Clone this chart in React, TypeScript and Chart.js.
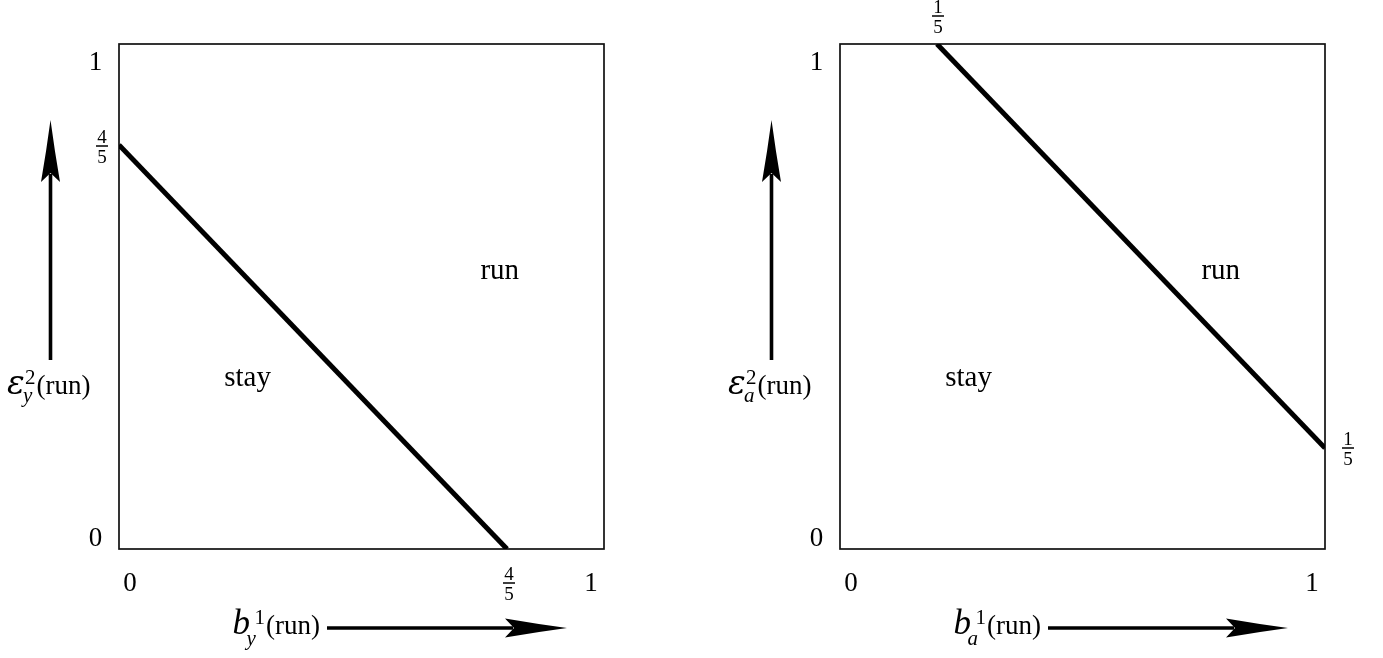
import React, { useEffect, useRef } from "react";
import { Chart, registerables } from "chart.js";

Chart.register(...registerables);

// Boundary between the "stay" and "run" regions, one per panel
const leftBoundaryX = [0, 0.8];
const leftBoundaryY = [0.8, 0];
const rightBoundaryX = [0.2, 1];
const rightBoundaryY = [1, 0.2];

// Axis ticks (values and their printed labels)
const leftXTickValues = [0, 0.8, 1];
const leftXTickLabels = ["0", "4/5", "1"];
const leftYTickValues = [0, 0.8, 1];
const leftYTickLabels = ["0", "4/5", "1"];
const rightXTickValues = [0, 1];
const rightXTickLabels = ["0", "1"];
const rightYTickValues = [0, 1];
const rightYTickLabels = ["0", "1"];

// Fractions where the right boundary meets the top and right edges
const rightTopMarkValues = [0.2];
const rightTopMarkLabels = ["1/5"];
const rightSideMarkValues = [0.2];
const rightSideMarkLabels = ["1/5"];

// Region names and their anchor points (data coordinates)
const regionNames = ["run", "stay"];
const regionX = [0.785, 0.265];
const regionY = [0.535, 0.323];

// Axis titles: base symbol, superscript, subscript, trailing text
const leftXTitle = ["b", "1", "y", "(run)"];
const leftYTitle = ["\u03B5", "2", "y", "(run)"];
const rightXTitle = ["b", "1", "a", "(run)"];
const rightYTitle = ["\u03B5", "2", "a", "(run)"];

const FONT = '"Liberation Serif", "DejaVu Serif", serif';
const GREEK_FONT = '"DejaVu Serif", "Liberation Serif", serif';

type PanelSpec = {
  xTickValues: number[];
  xTickLabels: string[];
  yTickValues: number[];
  yTickLabels: string[];
  topMarkValues: number[];
  topMarkLabels: string[];
  sideMarkValues: number[];
  sideMarkLabels: string[];
  xTitle: string[];
  yTitle: string[];
};

function drawFraction(ctx: CanvasRenderingContext2D, label: string, cx: number, barY: number) {
  const [num, den] = label.split("/");
  ctx.font = `19px ${FONT}`;
  ctx.textAlign = "center";
  ctx.textBaseline = "alphabetic";
  ctx.fillText(num, cx, barY - 3.5);
  ctx.fillText(den, cx, barY + 17);
  ctx.fillRect(cx - 6, barY - 0.75, 12, 1.5);
}

function drawScriptTitle(
  ctx: CanvasRenderingContext2D,
  parts: string[],
  x: number,
  baseline: number,
  baseFont: string,
  supDx: number,
  subDx: number,
  subDrop: number
) {
  const [base, sup, sub, tail] = parts;
  ctx.textAlign = "left";
  ctx.textBaseline = "alphabetic";
  ctx.font = baseFont;
  ctx.fillText(base, x, baseline);
  ctx.font = `21px ${FONT}`;
  const supW = ctx.measureText(sup).width;
  ctx.fillText(sup, x + supDx, baseline - 10);
  ctx.font = `italic 21px ${FONT}`;
  const subW = ctx.measureText(sub).width;
  ctx.fillText(sub, x + subDx, baseline + subDrop);
  const tailX = Math.max(x + supDx + supW, x + subDx + subW) + 1;
  ctx.font = `27px ${FONT}`;
  ctx.fillText(tail, tailX, baseline);
}

function drawArrow(ctx: CanvasRenderingContext2D, x1: number, y1: number, x2: number, y2: number) {
  const angle = Math.atan2(y2 - y1, x2 - x1);
  const len = Math.hypot(x2 - x1, y2 - y1);
  ctx.save();
  ctx.translate(x2, y2);
  ctx.rotate(angle);
  ctx.lineWidth = 3.6;
  ctx.beginPath();
  ctx.moveTo(-len, 0);
  ctx.lineTo(-54, 0);
  ctx.stroke();
  ctx.beginPath();
  ctx.moveTo(0, 0);
  ctx.quadraticCurveTo(-30, -4, -62, -9.5);
  ctx.lineTo(-53, 0);
  ctx.lineTo(-62, 9.5);
  ctx.quadraticCurveTo(-30, 4, 0, 0);
  ctx.closePath();
  ctx.fill();
  ctx.restore();
}

function makeDiagramPlugin(spec: PanelSpec) {
  return {
    id: "diagram",
    beforeDatasetsDraw(chart: any) {
      const { ctx } = chart;
      const xs = chart.scales.x;
      const ys = chart.scales.y;
      const L = xs.getPixelForValue(0);
      const R = xs.getPixelForValue(1);
      const B = ys.getPixelForValue(0);
      const T = ys.getPixelForValue(1);
      ctx.save();
      ctx.strokeStyle = "#111";
      ctx.lineWidth = 1.7;
      ctx.strokeRect(L, T, R - L, B - T);
      ctx.restore();
    },
    afterDatasetsDraw(chart: any) {
      const { ctx } = chart;
      const xs = chart.scales.x;
      const ys = chart.scales.y;
      const L = xs.getPixelForValue(0);
      const R = xs.getPixelForValue(1);
      const B = ys.getPixelForValue(0);
      const T = ys.getPixelForValue(1);
      ctx.save();
      ctx.fillStyle = "#000";
      ctx.strokeStyle = "#000";

      // x-axis tick labels (edge labels sit slightly inside the frame)
      spec.xTickValues.forEach((v, i) => {
        const label = spec.xTickLabels[i];
        const px = xs.getPixelForValue(v);
        if (label.includes("/")) {
          drawFraction(ctx, label, px + 2, B + 34);
        } else {
          const nudge = v === 0 ? 11 : v === 1 ? -13 : 0;
          ctx.font = `27px ${FONT}`;
          ctx.textAlign = "center";
          ctx.textBaseline = "alphabetic";
          ctx.fillText(label, px + nudge, B + 42);
        }
      });

      // y-axis tick labels
      spec.yTickValues.forEach((v, i) => {
        const label = spec.yTickLabels[i];
        const py = ys.getPixelForValue(v);
        if (label.includes("/")) {
          drawFraction(ctx, label, L - 17, py + 1);
        } else {
          const base = v === 1 ? py + 26 : v === 0 ? py - 3 : py + 9;
          ctx.font = `27px ${FONT}`;
          ctx.textAlign = "center";
          ctx.textBaseline = "alphabetic";
          ctx.fillText(label, L - 23.5, base);
        }
      });

      // boundary end-point fractions on the top and right edges
      spec.topMarkValues.forEach((v, i) => {
        drawFraction(ctx, spec.topMarkLabels[i], xs.getPixelForValue(v) + 1, T - 28);
      });
      spec.sideMarkValues.forEach((v, i) => {
        drawFraction(ctx, spec.sideMarkLabels[i], R + 23, ys.getPixelForValue(v));
      });

      // region names
      ctx.font = `29px ${FONT}`;
      ctx.textAlign = "center";
      ctx.textBaseline = "alphabetic";
      regionNames.forEach((name, i) => {
        ctx.fillText(name, xs.getPixelForValue(regionX[i]), ys.getPixelForValue(regionY[i]));
      });

      // axis arrows
      drawArrow(ctx, L - 68.5, T + 316, L - 68.5, T + 76);
      drawArrow(ctx, L + 208, B + 79, L + 448, B + 79);

      // axis titles
      drawScriptTitle(ctx, spec.yTitle, L - 112, T + 350, `italic 33px ${GREEK_FONT}`, 18, 16, 8);
      drawScriptTitle(ctx, spec.xTitle, L + 113.5, B + 85, `italic 35px ${FONT}`, 22, 14, 11);

      ctx.restore();
    },
  };
}

function Panel(props: {
  left: number;
  width: number;
  padding: { left: number; right: number; top: number; bottom: number };
  xs: number[];
  ys: number[];
  spec: PanelSpec;
}) {
  const ref = useRef<HTMLCanvasElement | null>(null);
  useEffect(() => {
    if (!ref.current) return;
    const chart = new Chart(ref.current, {
      type: "scatter",
      data: {
        datasets: [
          {
            data: props.xs.map((x, i) => ({ x, y: props.ys[i] })),
            showLine: true,
            borderColor: "#000",
            borderWidth: 5,
            borderCapStyle: "butt",
            pointRadius: 0,
            fill: false,
            tension: 0,
          },
        ],
      },
      options: {
        responsive: false,
        animation: false,
        events: [],
        layout: { padding: props.padding },
        plugins: { legend: { display: false }, tooltip: { enabled: false } },
        scales: {
          x: { type: "linear", min: 0, max: 1, display: false },
          y: { type: "linear", min: 0, max: 1, display: false },
        },
      },
      plugins: [makeDiagramPlugin(props.spec)],
    } as any);
    return () => chart.destroy();
  }, []);
  return (
    <canvas
      ref={ref}
      width={props.width}
      height={658}
      style={{ position: "absolute", left: props.left, top: 0, width: props.width, height: 658 }}
    />
  );
}

export default function App() {
  const leftSpec: PanelSpec = {
    xTickValues: leftXTickValues,
    xTickLabels: leftXTickLabels,
    yTickValues: leftYTickValues,
    yTickLabels: leftYTickLabels,
    topMarkValues: [],
    topMarkLabels: [],
    sideMarkValues: [],
    sideMarkLabels: [],
    xTitle: leftXTitle,
    yTitle: leftYTitle,
  };
  const rightSpec: PanelSpec = {
    xTickValues: rightXTickValues,
    xTickLabels: rightXTickLabels,
    yTickValues: rightYTickValues,
    yTickLabels: rightYTickLabels,
    topMarkValues: rightTopMarkValues,
    topMarkLabels: rightTopMarkLabels,
    sideMarkValues: rightSideMarkValues,
    sideMarkLabels: rightSideMarkLabels,
    xTitle: rightXTitle,
    yTitle: rightYTitle,
  };
  return (
    <div style={{ position: "absolute", left: 0, top: 0, width: 1383, height: 658, background: "#fff" }}>
      <Panel
        left={0}
        width={691}
        padding={{ left: 119, right: 87, top: 44, bottom: 109 }}
        xs={leftBoundaryX}
        ys={leftBoundaryY}
        spec={leftSpec}
      />
      <Panel
        left={691}
        width={692}
        padding={{ left: 149, right: 58, top: 44, bottom: 109 }}
        xs={rightBoundaryX}
        ys={rightBoundaryY}
        spec={rightSpec}
      />
    </div>
  );
}
